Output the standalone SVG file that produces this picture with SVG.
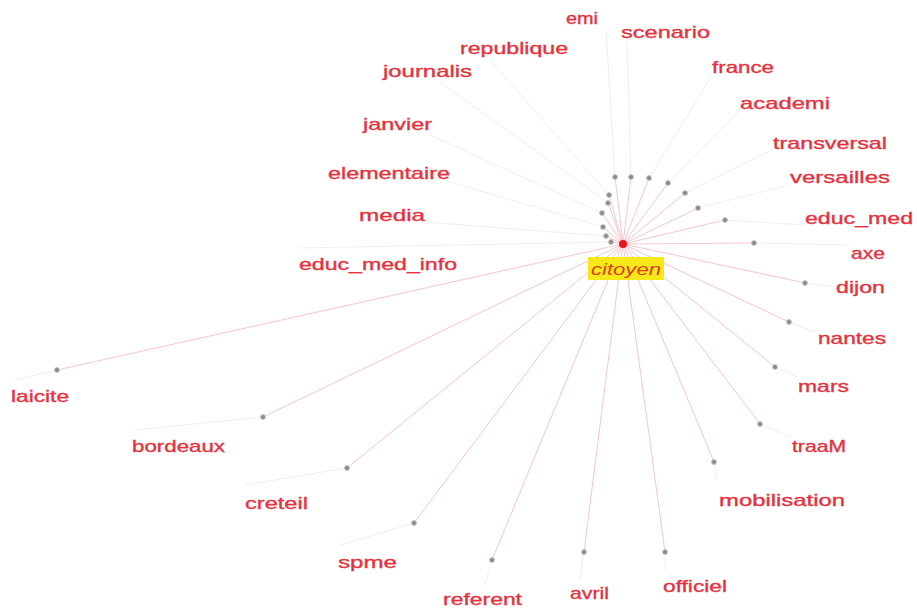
<svg xmlns="http://www.w3.org/2000/svg" width="917" height="609" viewBox="0 0 917 609">
<style>
.e{stroke:#f6c6cb;stroke-width:1;fill:none}
.g{stroke:#efefef;stroke-width:1;fill:none}
.d{fill:#8a8a8a;stroke:#c8c8c8;stroke-width:1}
.t{font-family:"Liberation Sans",Arial,sans-serif;font-size:17px;fill:#e4323e;stroke:#e4323e;stroke-width:0.35}
</style>
<rect width="917" height="609" fill="#ffffff"/>
<g id="connectors">
<path class="g" d="M615,177L606,30M631,177L627,42M649,178L712,75M668,183L740,110M685,193L772,150M698,208L790,185M725,220L805,225M754,243L850,245M805,283L835,287M789,322L815,332M775,367L797,377M760,424L790,437M714,462L717,480M665,552L665,570M584,552L580,580M492,560L485,585M414,523L340,545M347,468L245,485M263,417L135,430M57,370L15,380M611,242L300,248M606,236L425,222M603,227L450,182M602,213L430,135M608,203L440,82M609,195L490,60"/>
<path class="e" d="M623,244L615,177M623,244L631,177M623,244L649,178M623,244L668,183M623,244L685,193M623,244L698,208M623,244L725,220M623,244L754,243M623,244L805,283M623,244L789,322M623,244L775,367M623,244L760,424M623,244L714,462M623,244L665,552M623,244L584,552M623,244L492,560M623,244L414,523M623,244L347,468M623,244L263,417M623,244L57,370M623,244L611,242M623,244L606,236M623,244L603,227M623,244L602,213M623,244L608,203M623,244L609,195"/>
</g>
<g id="node-citoyen">
<circle cx="623" cy="244" r="4" fill="#e8141c"/>
<rect x="588" y="257" width="76" height="23" fill="#f7e81a"/>
<text x="591" y="275" font-family="Liberation Sans,Arial,sans-serif" font-size="17" font-style="italic" fill="#d9401a" textLength="70" lengthAdjust="spacingAndGlyphs">citoyen</text>
</g>
<g id="node-emi"><circle class="d" cx="615" cy="177" r="2.5"/><text class="t" x="566" y="24" textLength="32" lengthAdjust="spacingAndGlyphs">emi</text></g>
<g id="node-scenario"><circle class="d" cx="631" cy="177" r="2.5"/><text class="t" x="621" y="38" textLength="89" lengthAdjust="spacingAndGlyphs">scenario</text></g>
<g id="node-france"><circle class="d" cx="649" cy="178" r="2.5"/><text class="t" x="712" y="73" textLength="62" lengthAdjust="spacingAndGlyphs">france</text></g>
<g id="node-academi"><circle class="d" cx="668" cy="183" r="2.5"/><text class="t" x="740" y="109" textLength="90" lengthAdjust="spacingAndGlyphs">academi</text></g>
<g id="node-transversal"><circle class="d" cx="685" cy="193" r="2.5"/><text class="t" x="773" y="149" textLength="114" lengthAdjust="spacingAndGlyphs">transversal</text></g>
<g id="node-versailles"><circle class="d" cx="698" cy="208" r="2.5"/><text class="t" x="790" y="183" textLength="100" lengthAdjust="spacingAndGlyphs">versailles</text></g>
<g id="node-educ_med"><circle class="d" cx="725" cy="220" r="2.5"/><text class="t" x="805" y="224" textLength="108" lengthAdjust="spacingAndGlyphs">educ_med</text></g>
<g id="node-axe"><circle class="d" cx="754" cy="243" r="2.5"/><text class="t" x="851" y="259" textLength="34" lengthAdjust="spacingAndGlyphs">axe</text></g>
<g id="node-dijon"><circle class="d" cx="805" cy="283" r="2.5"/><text class="t" x="836" y="293" textLength="49" lengthAdjust="spacingAndGlyphs">dijon</text></g>
<g id="node-nantes"><circle class="d" cx="789" cy="322" r="2.5"/><text class="t" x="818" y="344" textLength="68" lengthAdjust="spacingAndGlyphs">nantes</text></g>
<g id="node-mars"><circle class="d" cx="775" cy="367" r="2.5"/><text class="t" x="798" y="392" textLength="51" lengthAdjust="spacingAndGlyphs">mars</text></g>
<g id="node-traaM"><circle class="d" cx="760" cy="424" r="2.5"/><text class="t" x="792" y="452" textLength="54" lengthAdjust="spacingAndGlyphs">traaM</text></g>
<g id="node-mobilisation"><circle class="d" cx="714" cy="462" r="2.5"/><text class="t" x="719" y="506" textLength="126" lengthAdjust="spacingAndGlyphs">mobilisation</text></g>
<g id="node-officiel"><circle class="d" cx="665" cy="552" r="2.5"/><text class="t" x="663" y="592" textLength="64" lengthAdjust="spacingAndGlyphs">officiel</text></g>
<g id="node-avril"><circle class="d" cx="584" cy="552" r="2.5"/><text class="t" x="570" y="599" textLength="39" lengthAdjust="spacingAndGlyphs">avril</text></g>
<g id="node-referent"><circle class="d" cx="492" cy="560" r="2.5"/><text class="t" x="443" y="605" textLength="79" lengthAdjust="spacingAndGlyphs">referent</text></g>
<g id="node-spme"><circle class="d" cx="414" cy="523" r="2.5"/><text class="t" x="338" y="568" textLength="59" lengthAdjust="spacingAndGlyphs">spme</text></g>
<g id="node-creteil"><circle class="d" cx="347" cy="468" r="2.5"/><text class="t" x="245" y="509" textLength="63" lengthAdjust="spacingAndGlyphs">creteil</text></g>
<g id="node-bordeaux"><circle class="d" cx="263" cy="417" r="2.5"/><text class="t" x="132" y="452" textLength="93" lengthAdjust="spacingAndGlyphs">bordeaux</text></g>
<g id="node-laicite"><circle class="d" cx="57" cy="370" r="2.5"/><text class="t" x="11" y="402" textLength="58" lengthAdjust="spacingAndGlyphs">laicite</text></g>
<g id="node-educ_med_info"><circle class="d" cx="611" cy="242" r="2.5"/><text class="t" x="299" y="270" textLength="158" lengthAdjust="spacingAndGlyphs">educ_med_info</text></g>
<g id="node-media"><circle class="d" cx="606" cy="236" r="2.5"/><text class="t" x="359" y="221" textLength="66" lengthAdjust="spacingAndGlyphs">media</text></g>
<g id="node-elementaire"><circle class="d" cx="603" cy="227" r="2.5"/><text class="t" x="328" y="179" textLength="122" lengthAdjust="spacingAndGlyphs">elementaire</text></g>
<g id="node-janvier"><circle class="d" cx="602" cy="213" r="2.5"/><text class="t" x="363" y="130" textLength="69" lengthAdjust="spacingAndGlyphs">janvier</text></g>
<g id="node-journalis"><circle class="d" cx="608" cy="203" r="2.5"/><text class="t" x="383" y="77" textLength="89" lengthAdjust="spacingAndGlyphs">journalis</text></g>
<g id="node-republique"><circle class="d" cx="609" cy="195" r="2.5"/><text class="t" x="460" y="54" textLength="108" lengthAdjust="spacingAndGlyphs">republique</text></g>
</svg>
